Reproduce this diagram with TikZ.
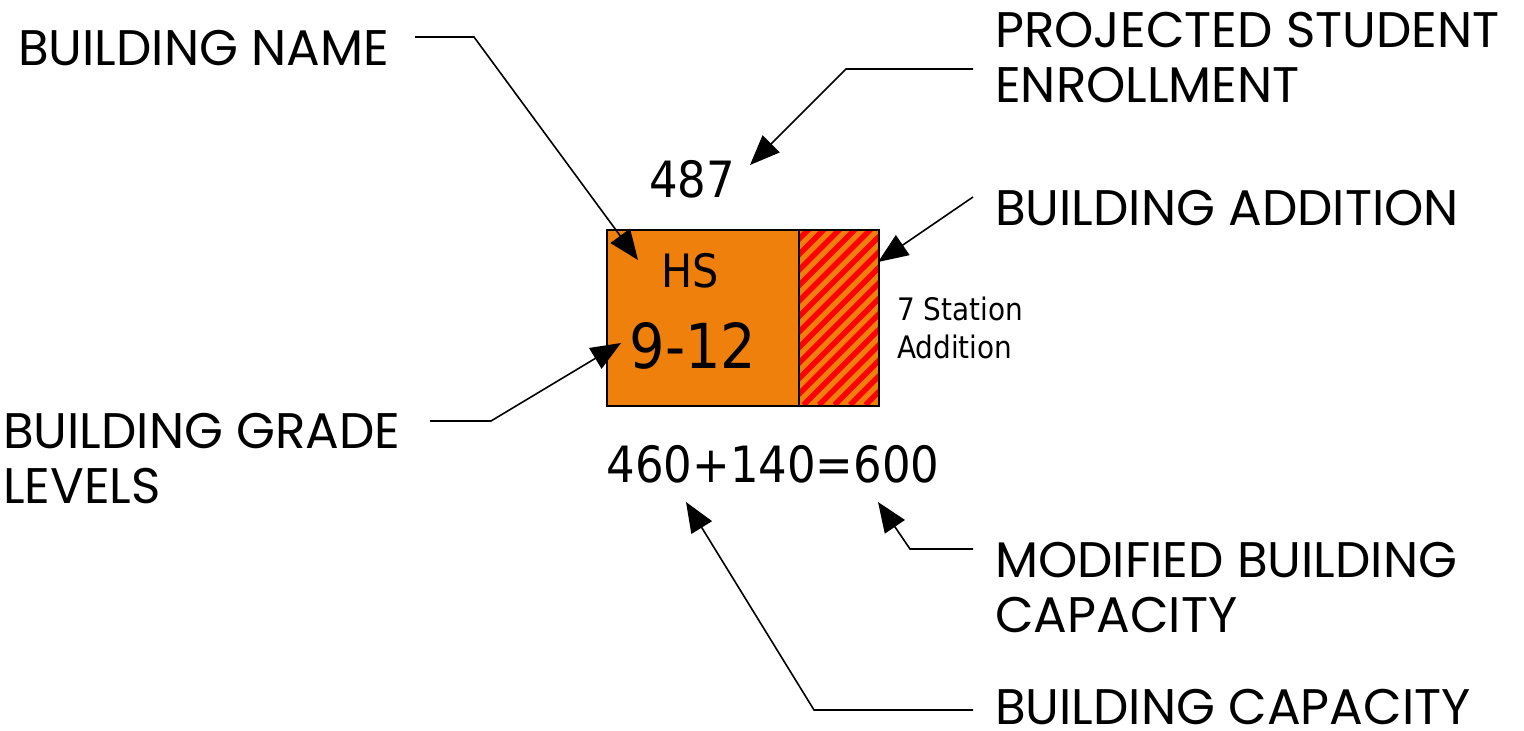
\documentclass[tikz,border=0pt]{standalone}
\usepackage{fontspec}
\newfontfamily\lblfont{Poppins}
\newfontfamily\boxfont{DejaVu Sans Condensed}
\usetikzlibrary{arrows.meta}
\definecolor{bldorange}{RGB}{238,128,11}
\definecolor{hatchred}{RGB}{255,0,0}
\begin{document}
\begin{tikzpicture}[x=1pt,y=-1pt,
  lbl/.style={anchor=north west, inner sep=0pt, align=left, font=\lblfont\fontsize{50}{55}\selectfont},
  boxtxt/.style={anchor=base, inner sep=0pt},
  conn/.style={line width=1.6pt, -{Triangle[length=30pt,width=24pt]}},
  boxline/.style={draw=black, line width=2pt}]
\useasboundingbox (0,0) rectangle (1524,731);

% building boxes
\fill[bldorange] (606,229) rectangle (878,405);
\begin{scope}
  \clip (798,229) rectangle (878,405);
  \foreach \k in {-2,...,18} {
    \draw[hatchred, line width=5.5pt] ({1038+\k*15.5-405},405) -- ({1038+\k*15.5-229},229);
  }
\end{scope}
\node[boxline, inner sep=0pt, minimum width=192pt, minimum height=176pt, anchor=north west] (main) at (606,229) {};
\node[boxline, inner sep=0pt, minimum width=80pt, minimum height=176pt, anchor=north west] (add) at (798,229) {};

% box texts
\node[boxtxt, font=\boxfont\fontsize{46}{46}\selectfont] (hs) at (690,287) {HS};
\node[boxtxt, font=\boxfont\fontsize{62}{62}\selectfont] (grades) at (693,368) {9-12};
\node[boxtxt, font=\boxfont\fontsize{50}{50}\selectfont] (enr) at (692,197) {487};
\node[boxtxt, font=\boxfont\fontsize{50}{50}\selectfont] (cap) at (773,482) {460+140=600};
\node[anchor=north west, inner sep=0pt, align=left, font=\boxfont\fontsize{31}{38}\selectfont] (note) at (897,297) {7 Station\\Addition};

% labels
\node[lbl] (lname) at (18,30) {BUILDING NAME};
\node[lbl] (lproj) at (995,12) {PROJECTED STUDENT\\ENROLLMENT};
\node[lbl] (ladd) at (995,190) {BUILDING ADDITION};
\node[lbl] (lgrade) at (3,413) {BUILDING GRADE\\LEVELS};
\node[lbl] (lmod) at (995,542) {MODIFIED BUILDING\\CAPACITY};
\node[lbl] (lcap) at (995,689) {BUILDING CAPACITY};

% connector points
\coordinate (nameS) at (415,37);
\coordinate (nameB) at (474,37);
\coordinate (nameT) at (638,260);
\coordinate (projS) at (973,69);
\coordinate (projB) at (846,69);
\coordinate (projT) at (750,165);
\coordinate (addS) at (973,197);
\coordinate (addT) at (878,262);
\coordinate (gradeS) at (430,421);
\coordinate (gradeB) at (491,421);
\coordinate (gradeT) at (621,343);
\coordinate (modS) at (973,549);
\coordinate (modB) at (910,549);
\coordinate (modT) at (878,502);
\coordinate (capS) at (973,710);
\coordinate (capB) at (814,710);
\coordinate (capT) at (686,502);

\draw[conn] (nameS) -- (nameB) -- (nameT);
\draw[conn] (projS) -- (projB) -- (projT);
\draw[conn] (addS) -- (addT);
\draw[conn] (gradeS) -- (gradeB) -- (gradeT);
\draw[conn] (modS) -- (modB) -- (modT);
\draw[conn] (capS) -- (capB) -- (capT);
\end{tikzpicture}
\end{document}
